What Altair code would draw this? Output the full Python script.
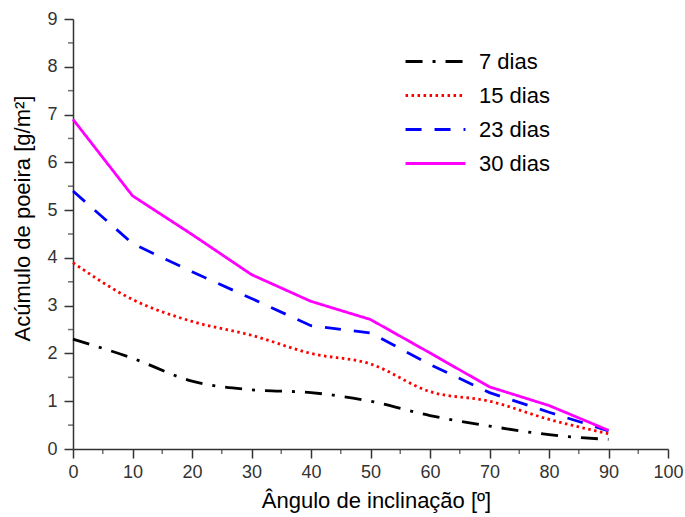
import altair as alt
import pandas as pd

# ---- data ----
angles = [0, 10, 20, 30, 40, 50, 60, 70, 80, 90]
series_names = ["7 dias", "15 dias", "23 dias", "30 dias"]
dias7 = [2.3, 1.9, 1.42, 1.24, 1.18, 1.0, 0.7, 0.48, 0.3, 0.2]
dias15 = [3.9, 3.13, 2.67, 2.38, 2.0, 1.78, 1.2, 1.0, 0.62, 0.32]
dias23 = [5.4, 4.3, 3.71, 3.15, 2.58, 2.43, 1.77, 1.18, 0.77, 0.38]
dias30 = [6.9, 5.3, 4.49, 3.65, 3.09, 2.71, 2.01, 1.3, 0.91, 0.39]

x_ticks = [0, 10, 20, 30, 40, 50, 60, 70, 80, 90, 100]
y_ticks = [0, 1, 2, 3, 4, 5, 6, 7, 8, 9]
x_minor = [5, 15, 25, 35, 45, 55, 65, 75, 85, 95]
y_minor = [0.5, 1.5, 2.5, 3.5, 4.5, 5.5, 6.5, 7.5, 8.5]

colors = ["#000000", "#FF0000", "#0000FF", "#FF00FF"]
dashes = [[17, 10, 3, 10], [2.5, 3.5], [16, 13], [1, 0]]

FONT = "Liberation Sans"
AXIS_COLOR = "#333333"
LINE_W = 2.8

rows = []
for name, vals in zip(series_names, [dias7, dias15, dias23, dias30]):
    for a, v in zip(angles, vals):
        rows.append({"serie": name, "angle": a, "value": v})
df = pd.DataFrame(rows)

xscale = alt.Scale(domain=[0, 100], nice=False)
yscale = alt.Scale(domain=[0, 9], nice=False)

xaxis = alt.Axis(
    values=x_ticks, format="d", title="Ângulo de inclinação [º]", grid=False,
    tickSize=9, tickWidth=1.5, tickColor=AXIS_COLOR, domainWidth=1.5,
    domainColor=AXIS_COLOR, labelColor=AXIS_COLOR, labelFontSize=18,
    labelFont=FONT, labelPadding=5, labelFlush=False, labelOverlap=False,
    titleFont=FONT, titleFontSize=22, titleFontWeight="normal",
    titleColor="black", titleX=303, titleY=58, titleBaseline="alphabetic",
)
yaxis = alt.Axis(
    values=y_ticks, format="d", title="Acúmulo de poeira [g/m²]", grid=False,
    tickSize=9, tickWidth=1.5, tickColor=AXIS_COLOR, domainWidth=1.5,
    domainColor=AXIS_COLOR, labelColor=AXIS_COLOR, labelFontSize=18,
    labelFont=FONT, labelPadding=7, labelFlush=False, labelOverlap=False,
    titleFont=FONT, titleFontSize=22, titleFontWeight="normal",
    titleColor="black", titleX=-44, titleY=199, titleAngle=270,
    titleBaseline="alphabetic", titleAlign="center",
)

legend = alt.Legend(
    title=None, orient="none", legendX=339.5, legendY=19.5, direction="vertical",
    symbolType="M-1.41,0H1.41", symbolSize=1806, symbolStrokeWidth=LINE_W,
    symbolFillColor="transparent",
    labelFont=FONT, labelFontSize=22, labelColor="black", labelOffset=20.5,
    rowPadding=0,
)

color = alt.Color("serie:N", scale=alt.Scale(domain=series_names, range=colors), legend=legend)
dash = alt.StrokeDash("serie:N", scale=alt.Scale(domain=series_names, range=dashes), legend=legend)

base = alt.Chart(df).encode(
    x=alt.X("angle:Q", scale=xscale, axis=xaxis),
    y=alt.Y("value:Q", scale=yscale, axis=yaxis),
    color=color,
    strokeDash=dash,
)

smooth = base.transform_filter(
    alt.FieldOneOfPredicate(field="serie", oneOf=["7 dias", "15 dias"])
).mark_line(interpolate="monotone", strokeWidth=LINE_W)

linear = base.transform_filter(
    alt.FieldOneOfPredicate(field="serie", oneOf=["23 dias", "30 dias"])
).mark_line(interpolate="linear", strokeWidth=LINE_W)

xminor = alt.Chart(pd.DataFrame({"angle": x_minor})).mark_tick(
    orient="vertical", size=5, thickness=1.5, yOffset=2.5, color=AXIS_COLOR
).encode(
    x=alt.X("angle:Q", scale=xscale, axis=xaxis),
    y=alt.Y(datum=0, scale=yscale, axis=yaxis),
)

yminor = alt.Chart(pd.DataFrame({"value": y_minor})).mark_tick(
    orient="horizontal", size=5, thickness=1.5, xOffset=-2.5, color=AXIS_COLOR
).encode(
    y=alt.Y("value:Q", scale=yscale, axis=yaxis),
    x=alt.X(datum=0, scale=xscale, axis=xaxis),
)

chart = alt.layer(smooth, linear, xminor, yminor).properties(
    width=595, height=430,
    padding={"left": 73, "top": 19, "right": 17, "bottom": 68},
    autosize=alt.AutoSizeParams(type="none"),
    background="white",
).configure_view(stroke=None)

chart.save("out.html", embed_options={"renderer": "svg", "actions": False})
